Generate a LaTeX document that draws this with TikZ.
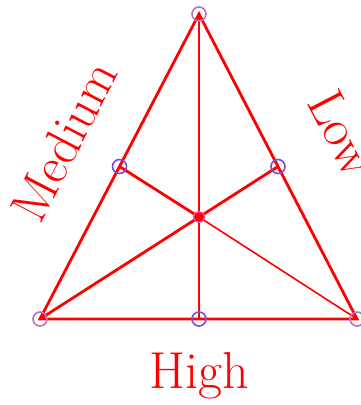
\documentclass[tikz,border=0pt]{standalone}
\usepackage{fontspec}
\begin{document}
\begin{tikzpicture}[x=1pt,y=-1pt,
  side/.style={red,line width=2.8pt},
  thinside/.style={red,line width=1.6pt},
  vmark/.style={draw=violet!55,line width=1.6pt,circle,minimum size=14pt,inner sep=0pt},
  mmark/.style={draw=blue!45!violet!70,line width=1.6pt,circle,minimum size=14pt,inner sep=0pt},
  cmark/.style={draw=magenta!70,fill=red,line width=1.2pt,circle,minimum size=11pt,inner sep=0pt},
  lab/.style={red,font=\fontsize{52}{56}\selectfont,inner sep=0pt}]
\useasboundingbox[fill=white] (0,0) rectangle (360,405);
\coordinate (A) at (199,14);
\coordinate (B) at (40,319);
\coordinate (C) at (357,319);
\coordinate (MAB) at (119.5,166.5);
\coordinate (MAC) at (278,166.5);
\coordinate (MBC) at (199,319);
\coordinate (G) at (199,217);
\draw[side] (A) -- (B) -- (C) -- cycle;
\draw[side] (A) -- (MBC);
\draw[side] (B) -- (MAC);
\draw[side] (MAB) -- (G);
\draw[thinside] (G) -- (C);
\node[vmark] (nA) at (A) {};
\node[vmark] (nB) at (B) {};
\node[vmark] (nC) at (C) {};
\node[mmark] (nMAB) at (MAB) {};
\node[mmark] (nMAC) at (MAC) {};
\node[mmark] (nMBC) at (MBC) {};
\node[cmark] (nG) at (G) {};
\node[lab,rotate=62.5] (med) at (64,141) {Medium};
\node[lab,rotate=-62.5] (low) at (342,133) {Low};
\node[lab] (high) at (199,376) {High};
\end{tikzpicture}
\end{document}
